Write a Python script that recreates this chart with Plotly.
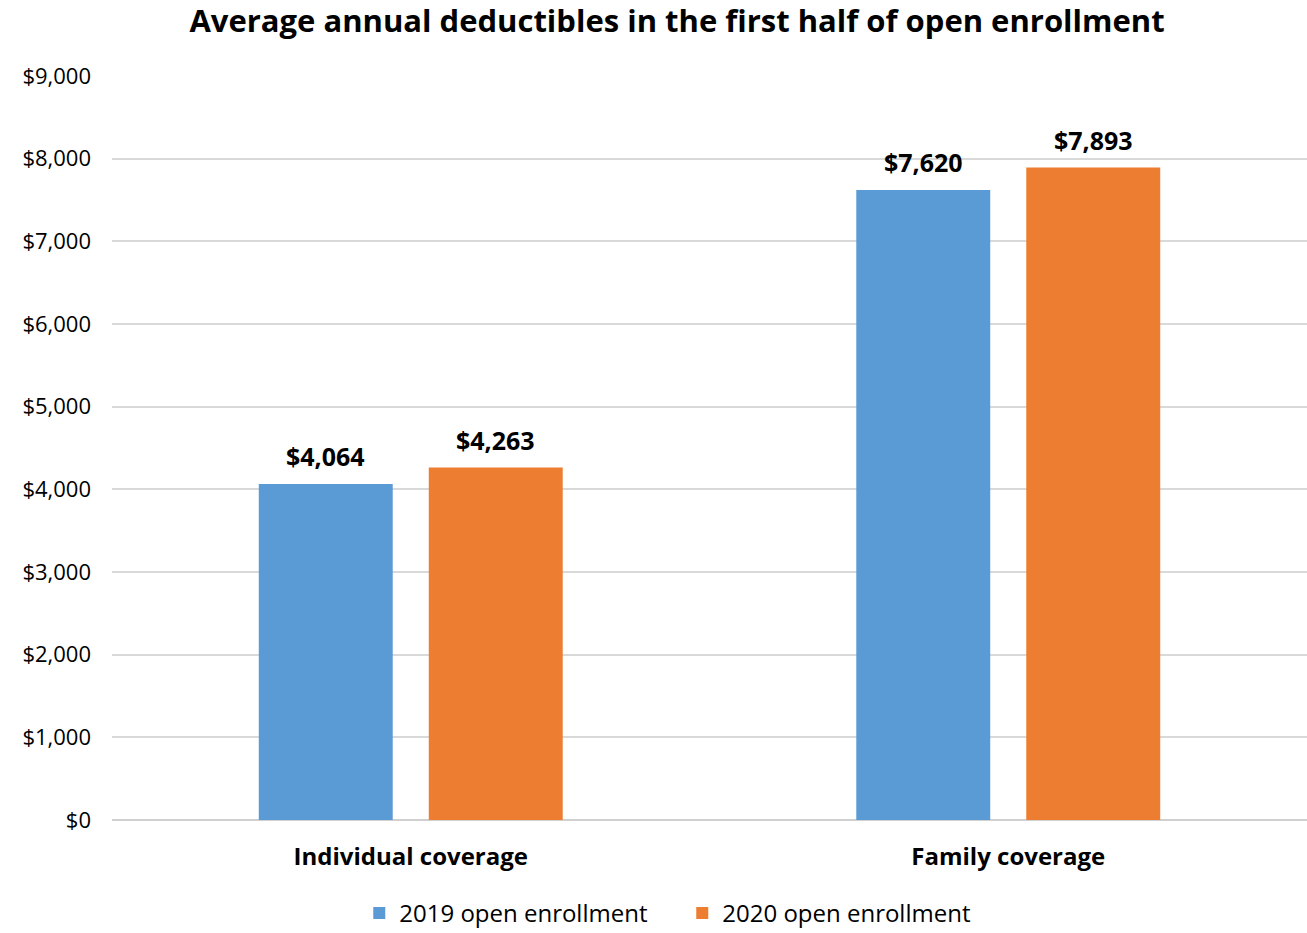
import plotly.graph_objects as go

categories = ["Individual coverage", "Family coverage"]
series_names = ["2019 open enrollment", "2020 open enrollment"]
values_2019 = [4064, 7620]
values_2020 = [4263, 7893]
colors = ["#5B9BD5", "#ED7D31"]

FONT = "Open Sans"
BAR_SLOT_PX = 170  # each bar's slot in a group (bar + inner gap), used to centre labels

fig = go.Figure()
for name, vals, col in zip(series_names, [values_2019, values_2020], colors):
    fig.add_trace(go.Bar(
        x=categories, y=vals, name=name, marker=dict(color=col, line=dict(width=0)),
    ))

# value labels above bars
for i, vals in enumerate([values_2019, values_2020]):
    shift = (i - 0.5) * BAR_SLOT_PX
    for cat, v in zip(categories, vals):
        fig.add_annotation(x=cat, y=v, xref="x", yref="y", text=f"<b>${v:,.0f}</b>",
                           showarrow=False, xshift=shift, yanchor="bottom", yshift=9,
                           font=dict(family=FONT, size=25, color="#000000"))

fig.update_layout(
    width=1307, height=933,
    margin=dict(l=112, r=0, t=76, b=113, autoexpand=False),
    paper_bgcolor="white", plot_bgcolor="white",
    barmode="group", bargap=0.431, bargroupgap=0.212,
    title=dict(text="<b>Average annual deductibles in the first half of open enrollment</b>",
               x=0.518, xanchor="center", y=0.977, yanchor="middle",
               font=dict(family=FONT, size=31, color="#000000")),
    font=dict(family=FONT, color="#000000"),
    showlegend=True,
    legend=dict(orientation="h", xref="container", yref="container",
                x=0.522, xanchor="center", y=0.021, yanchor="middle",
                font=dict(family=FONT, size=24, color="#000000"),
                itemwidth=30, entrywidth=278, entrywidthmode="pixels",
                traceorder="normal"),
)
fig.update_xaxes(showgrid=False, showline=False, ticks="",
                 tickfont=dict(family=FONT, size=24, color="#000000"),
                 tickprefix="<b>", ticksuffix="</b>", ticklabelstandoff=20)
fig.update_yaxes(range=[0, 9000], dtick=1000, tickformat="$,.0f",
                 showgrid=True, gridcolor="#D9D9D9", gridwidth=2,
                 zeroline=True, zerolinecolor="#D0D0D0", zerolinewidth=2,
                 showline=False, ticks="", ticklabelstandoff=20,
                 tickfont=dict(family=FONT, size=22, color="#000000"))

fig.write_html("out.html")
